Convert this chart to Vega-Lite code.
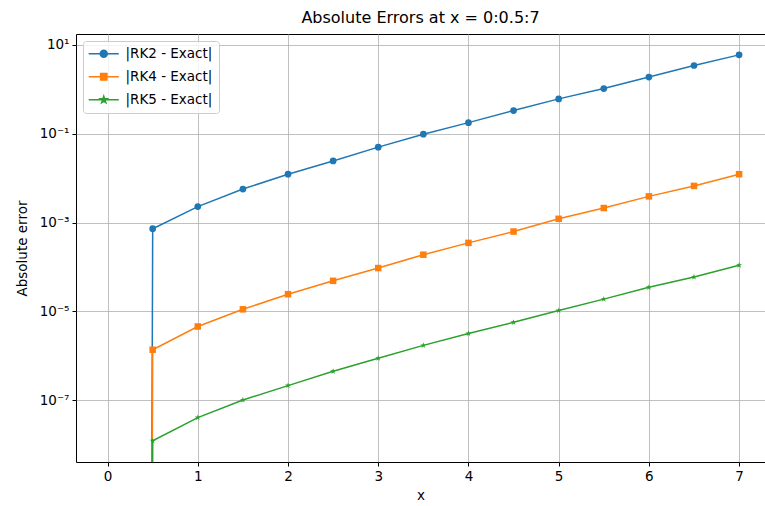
{
  "$schema": "https://vega.github.io/schema/vega-lite/v6.json",
  "autosize": {"type": "none"},
  "padding": {"left": 76, "top": 34, "right": 0, "bottom": 44},
  "width": 689,
  "height": 428,
  "background": "white",
  "config": {"font": "DejaVu Sans", "view": {"stroke": "#000", "strokeWidth": 1}},
  "title": {"text": "Absolute Errors at x = 0:0.5:7", "fontSize": 16, "fontWeight": "normal", "color": "#000", "offset": 8},
  "data": {"values": [
    {"x": 0, "series": "|RK2 - Exact|", "err": 1e-300},
    {"x": 0.5, "series": "|RK2 - Exact|", "err": 0.00073},
    {"x": 1, "series": "|RK2 - Exact|", "err": 0.0023},
    {"x": 1.5, "series": "|RK2 - Exact|", "err": 0.0057},
    {"x": 2, "series": "|RK2 - Exact|", "err": 0.0123},
    {"x": 2.5, "series": "|RK2 - Exact|", "err": 0.0245},
    {"x": 3, "series": "|RK2 - Exact|", "err": 0.05},
    {"x": 3.5, "series": "|RK2 - Exact|", "err": 0.098},
    {"x": 4, "series": "|RK2 - Exact|", "err": 0.178},
    {"x": 4.5, "series": "|RK2 - Exact|", "err": 0.333},
    {"x": 5, "series": "|RK2 - Exact|", "err": 0.61},
    {"x": 5.5, "series": "|RK2 - Exact|", "err": 1.04},
    {"x": 6, "series": "|RK2 - Exact|", "err": 1.89},
    {"x": 6.5, "series": "|RK2 - Exact|", "err": 3.44},
    {"x": 7, "series": "|RK2 - Exact|", "err": 5.97},
    {"x": 0, "series": "|RK4 - Exact|", "err": 1e-300},
    {"x": 0.5, "series": "|RK4 - Exact|", "err": 1.38e-6},
    {"x": 1, "series": "|RK4 - Exact|", "err": 4.6e-6},
    {"x": 1.5, "series": "|RK4 - Exact|", "err": 1.12e-5},
    {"x": 2, "series": "|RK4 - Exact|", "err": 2.45e-5},
    {"x": 2.5, "series": "|RK4 - Exact|", "err": 4.9e-5},
    {"x": 3, "series": "|RK4 - Exact|", "err": 9.5e-5},
    {"x": 3.5, "series": "|RK4 - Exact|", "err": 0.00019},
    {"x": 4, "series": "|RK4 - Exact|", "err": 0.00035},
    {"x": 4.5, "series": "|RK4 - Exact|", "err": 0.00063},
    {"x": 5, "series": "|RK4 - Exact|", "err": 0.00122},
    {"x": 5.5, "series": "|RK4 - Exact|", "err": 0.00213},
    {"x": 6, "series": "|RK4 - Exact|", "err": 0.0039},
    {"x": 6.5, "series": "|RK4 - Exact|", "err": 0.0067},
    {"x": 7, "series": "|RK4 - Exact|", "err": 0.0123},
    {"x": 0, "series": "|RK5 - Exact|", "err": 1e-300},
    {"x": 0.5, "series": "|RK5 - Exact|", "err": 1.23e-8},
    {"x": 1, "series": "|RK5 - Exact|", "err": 4.1e-8},
    {"x": 1.5, "series": "|RK5 - Exact|", "err": 1.02e-7},
    {"x": 2, "series": "|RK5 - Exact|", "err": 2.15e-7},
    {"x": 2.5, "series": "|RK5 - Exact|", "err": 4.5e-7},
    {"x": 3, "series": "|RK5 - Exact|", "err": 8.9e-7},
    {"x": 3.5, "series": "|RK5 - Exact|", "err": 1.73e-6},
    {"x": 4, "series": "|RK5 - Exact|", "err": 3.2e-6},
    {"x": 4.5, "series": "|RK5 - Exact|", "err": 5.7e-6},
    {"x": 5, "series": "|RK5 - Exact|", "err": 1.05e-5},
    {"x": 5.5, "series": "|RK5 - Exact|", "err": 1.9e-5},
    {"x": 6, "series": "|RK5 - Exact|", "err": 3.5e-5},
    {"x": 6.5, "series": "|RK5 - Exact|", "err": 6.0e-5},
    {"x": 7, "series": "|RK5 - Exact|", "err": 0.00011}
  ]},
  "encoding": {
    "x": {
      "field": "x", "type": "quantitative",
      "scale": {"domain": [-0.35, 7.287], "nice": false, "zero": false},
      "axis": {
        "values": [0, 1, 2, 3, 4, 5, 6, 7], "title": "x", "format": "d",
        "titleFontSize": 13.5, "titleFontWeight": "normal", "titleColor": "#000",
        "labelFontSize": 13.5, "labelColor": "#000", "labelFlush": false,
        "grid": true, "gridColor": "#b0b0b0", "gridWidth": 0.8,
        "domain": false, "tickColor": "#000", "tickSize": 4, "labelPadding": 3, "titlePadding": 6
      }
    },
    "y": {
      "field": "err", "type": "quantitative",
      "scale": {"type": "log", "domain": [4.1e-9, 17.6], "nice": false},
      "axis": {
        "values": [10, 0.1, 0.001, 0.00001, 0.0000001], "title": "Absolute error",
        "labelExpr": "datum.value > 1 ? '10¹' : datum.value > 0.01 ? '10⁻¹' : datum.value > 0.0001 ? '10⁻³' : datum.value > 0.000001 ? '10⁻⁵' : '10⁻⁷'",
        "titleFontSize": 13.5, "titleFontWeight": "normal", "titleColor": "#000",
        "labelFontSize": 13.5, "labelColor": "#000", "labelFlush": false,
        "grid": true, "gridColor": "#b0b0b0", "gridWidth": 0.8,
        "domain": false, "tickColor": "#000", "tickSize": 4, "labelPadding": 3, "titlePadding": 10
      }
    },
    "color": {
      "field": "series", "type": "nominal",
      "scale": {"domain": ["|RK2 - Exact|", "|RK4 - Exact|", "|RK5 - Exact|"], "range": ["#1f77b4", "#ff7f0e", "#2ca02c"]},
      "legend": null
    }
  },
  "layer": [
    {"mark": {"type": "line", "strokeWidth": 1.5, "clip": true}},
    {
      "mark": {"type": "point", "filled": true, "opacity": 1, "clip": true},
      "encoding": {
        "shape": {
          "field": "series", "type": "nominal",
          "scale": {"domain": ["|RK2 - Exact|", "|RK4 - Exact|", "|RK5 - Exact|"], "range": ["circle", "square", "M0,-1L0.2245,-0.309L0.951,-0.309L0.363,0.118L0.588,0.809L0,0.382L-0.588,0.809L-0.363,0.118L-0.951,-0.309L-0.2245,-0.309Z"]},
          "legend": null
        },
        "size": {
          "field": "series", "type": "ordinal",
          "scale": {"domain": ["|RK2 - Exact|", "|RK4 - Exact|", "|RK5 - Exact|"], "range": [45, 40, 36]},
          "legend": null
        }
      }
    },
    {
      "transform": [{"filter": "datum.x == 0"}],
      "mark": {"type": "point", "filled": true, "opacity": 1, "size": 49, "clip": true},
      "encoding": {
        "shape": {
          "field": "series", "type": "nominal",
          "scale": {"domain": ["|RK2 - Exact|", "|RK4 - Exact|", "|RK5 - Exact|"], "range": [
            "M-4.3,0H4.3M-1,0A1,1,0,1,1,1,0A1,1,0,1,1,-1,0Z",
            "M-4.3,0H4.3M-0.9,-0.9H0.9V0.9H-0.9Z",
            "M-4.3,0H4.3M0,-1L0.2245,-0.309L0.951,-0.309L0.363,0.118L0.588,0.809L0,0.382L-0.588,0.809L-0.363,0.118L-0.951,-0.309L-0.2245,-0.309Z"
          ]},
          "legend": {
            "title": null, "orient": "top-left", "offset": 7, "padding": 6,
            "symbolSize": 49, "symbolOffset": 8, "labelOffset": 15,
            "labelFontSize": 13.5, "labelColor": "#000", "rowPadding": 8,
            "strokeColor": "#cccccc", "fillColor": "rgba(255,255,255,0.8)", "cornerRadius": 3,
            "symbolStrokeWidth": 1.5,
            "encoding": {"symbols": {
              "stroke": {"value": {"expr": "scale('color', datum.value)"}},
              "fill": {"value": {"expr": "scale('color', datum.value)"}}
            }}
          }
        }
      }
    }
  ],
  "resolve": {"scale": {"shape": "independent"}}
}
